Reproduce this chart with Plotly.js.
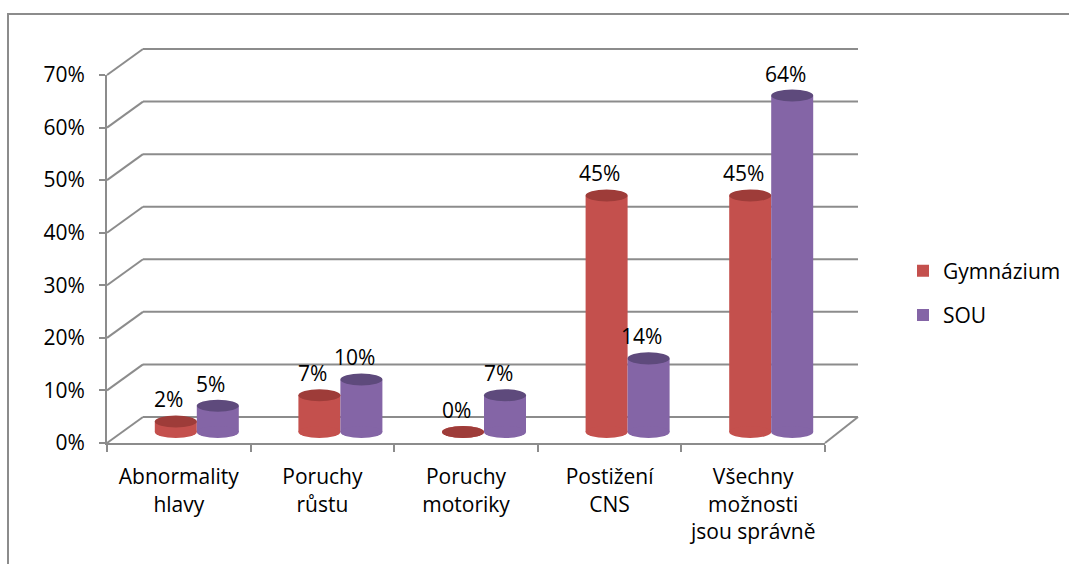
<!DOCTYPE html>
<html>
<head>
<meta charset="utf-8">
<script src="https://cdn.plot.ly/plotly-3.0.1.min.js"></script>
<style>html,body{margin:0;padding:0;background:#fff;}#chart{width:1069px;height:564px;}</style>
</head>
<body>
<div id="chart"></div>
<script>
// ---- data ----
const categories = ["Abnormality<br>hlavy", "Poruchy<br>růstu", "Poruchy<br>motoriky", "Postižení<br>CNS", "Všechny<br>možnosti<br>jsou správně"];
const seriesNames = ["Gymnázium", "SOU"];
const gymnazium = [2, 7, 0, 45, 45];
const sou = [5, 10, 7, 14, 64];
const yTicks = [0, 10, 20, 30, 40, 50, 60, 70];
const yTickText = ["0%", "10%", "20%", "30%", "40%", "50%", "60%", "70%"];

// ---- style / geometry ----
const W = 1069, H = 564;
const px = x => x / W;
const py = y => 1 - y / H;
const FONT = "Open Sans, Lato, sans-serif";
const FS = 21;
const GRID = "#8c8c8c";
const colors = ["#c4504d", "#8465a6"];
const topColors = ["#9e3c39", "#5e4a7c"];
const bargap = 0.415;
const barW = (1 - bargap) / 2;
const FRONT0 = 443, FRONT70 = 75, PXPER = (FRONT0 - FRONT70) / 70;
const frontY = v => py(FRONT0 - v * PXPER);
const backY = v => py(FRONT0 - v * PXPER - 26);

const data = [
  {type: "bar", name: seriesNames[0], x: categories, y: gymnazium, marker: {color: colors[0]},
   xaxis: "x", yaxis: "y", legendgroup: "a", hoverinfo: "skip"},
  {type: "bar", name: seriesNames[1], x: categories, y: sou, marker: {color: colors[1]},
   xaxis: "x", yaxis: "y", legendgroup: "b", hoverinfo: "skip"},
  {type: "scatter", mode: "markers", x: categories, y: categories.map(() => null),
   xaxis: "x2", yaxis: "y2", showlegend: false, hoverinfo: "skip"}
];

const shapes = [];
// outer frame
shapes.push({type: "rect", xref: "paper", yref: "paper", x0: px(8), x1: 1.05, y0: -0.05, y1: py(14),
  line: {color: GRID, width: 2}, layer: "below"});
// back wall gridlines and side diagonals
yTicks.forEach(v => {
  shapes.push({type: "line", xref: "paper", yref: "paper", x0: px(143), x1: px(858), y0: backY(v), y1: backY(v),
    line: {color: GRID, width: 2}, layer: "below"});
  shapes.push({type: "line", xref: "paper", yref: "paper", x0: px(107), x1: px(143), y0: frontY(v), y1: backY(v),
    line: {color: GRID, width: 2}, layer: "below"});
});
// floor right edge
shapes.push({type: "line", xref: "paper", yref: "paper", x0: px(825), x1: px(858), y0: frontY(0), y1: backY(0),
  line: {color: GRID, width: 2}, layer: "below"});

// cylinder ends
const eh = 1.15;
[gymnazium, sou].forEach((vals, s) => {
  const off = (s === 0 ? -1 : 1) * barW / 2;
  vals.forEach((v, i) => {
    const c = i + off;
    shapes.push({type: "circle", xref: "x", yref: "y", x0: c - barW / 2, x1: c + barW / 2, y0: -eh, y1: eh,
      fillcolor: colors[s], line: {width: 0}, layer: "above"});
    shapes.push({type: "circle", xref: "x", yref: "y", x0: c - barW / 2, x1: c + barW / 2, y0: v - eh, y1: v + eh,
      fillcolor: topColors[s], line: {width: 0}, layer: "above"});
  });
});

// value labels
const annotations = [];
[gymnazium, sou].forEach((vals, s) => {
  vals.forEach((v, i) => {
    annotations.push({x: i, y: v, xref: "x", yref: "y", text: v + "%", showarrow: false,
      xshift: (s === 0 ? -21 : 21) - 7, yshift: 22, font: {family: FONT, size: FS, color: "#000"}});
  });
});

const layout = {
  width: W, height: H,
  margin: {l: 0, r: 0, t: 0, b: 0},
  paper_bgcolor: "#fff", plot_bgcolor: "rgba(0,0,0,0)",
  font: {family: FONT, size: FS, color: "#000"},
  barmode: "group", bargap: bargap, bargroupgap: 0,
  showlegend: true,
  legend: {x: px(903), y: py(293), xanchor: "left", yanchor: "middle", traceorder: "grouped",
    tracegroupgap: 14, font: {family: FONT, size: FS, color: "#000"}, bgcolor: "rgba(0,0,0,0)"},
  xaxis: {domain: [px(125), px(843)], anchor: "y", type: "category", categoryorder: "array",
    categoryarray: categories, range: [-0.5, 4.5], visible: false, fixedrange: true},
  yaxis: {domain: [py(432 + 3 * PXPER), py(432 - 70 * PXPER)], anchor: "x", range: [-3, 70], visible: false, fixedrange: true},
  xaxis2: {domain: [px(107), px(825)], anchor: "y2", type: "category", categoryorder: "array",
    categoryarray: categories, range: [-0.5, 4.5], showline: true, linecolor: GRID, linewidth: 2,
    ticks: "outside", tickson: "boundaries", ticklen: 7, tickwidth: 2, tickcolor: GRID,
    showgrid: false, zeroline: false, ticklabelstandoff: 14,
    tickfont: {family: FONT, size: FS, color: "#000"}, fixedrange: true},
  yaxis2: {domain: [py(FRONT0), py(FRONT70)], anchor: "x2", range: [0, 70], tickmode: "array",
    tickvals: yTicks, ticktext: yTickText, showline: true, linecolor: GRID, linewidth: 2,
    ticks: "outside", ticklen: 6, tickwidth: 2, tickcolor: GRID, showgrid: false, zeroline: false,
    ticklabelstandoff: 10, tickfont: {family: FONT, size: FS, color: "#000"}, fixedrange: true},
  shapes: shapes,
  annotations: annotations
};

Plotly.newPlot("chart", data, layout, {displayModeBar: false, staticPlot: true});
</script>
</body>
</html>
